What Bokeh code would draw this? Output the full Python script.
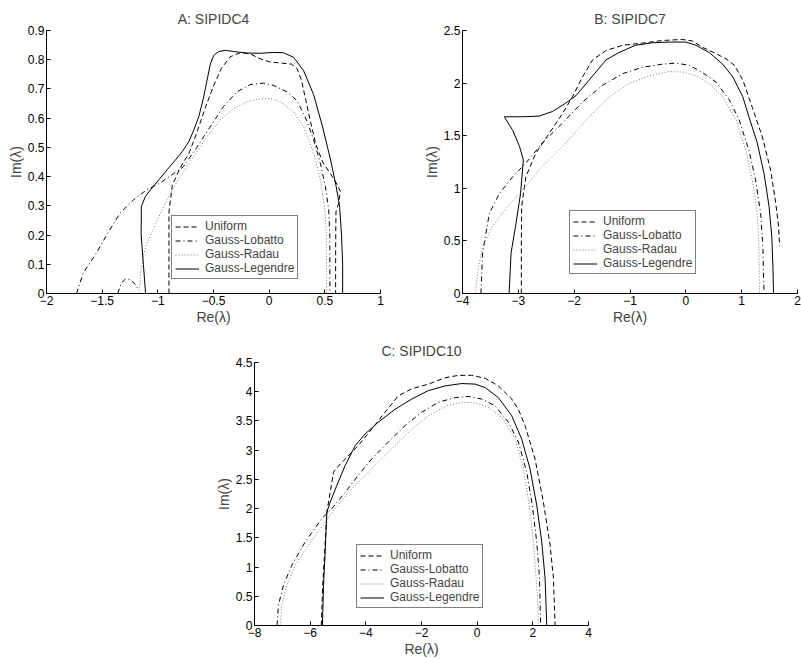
from bokeh.plotting import figure
from bokeh.layouts import column, row
from bokeh.models import Range1d, FixedTicker, Legend, Spacer
from bokeh.embed import file_html
from bokeh.resources import INLINE

nan = float("nan")

# ---------------- Panel A: SIPIDC4 ----------------
A_uni_x = [-0.9, -0.9, -0.9, -0.87, -0.8, -0.72, -0.65, -0.57, -0.5, -0.43, -0.35, -0.26, -0.17, -0.08, 0.01, 0.1, 0.2, 0.25, 0.29, 0.33, 0.37, 0.42, 0.48, 0.55, 0.6, 0.64, 0.625, 0.6, 0.597, 0.597]
A_uni_y = [0.0, 0.15, 0.28, 0.37, 0.43, 0.48, 0.55, 0.64, 0.71, 0.77, 0.81, 0.824, 0.82, 0.803, 0.792, 0.789, 0.785, 0.77, 0.73, 0.66, 0.59, 0.51, 0.45, 0.41, 0.38, 0.35, 0.31, 0.28, 0.15, 0.0]
A_lob_x = [-1.73, -1.67, -1.55, -1.46, -1.34, -1.22, -1.1, -0.98, -0.86, -0.77, -0.65, -0.53, -0.41, -0.29, -0.17, -0.05, 0.04, 0.16, 0.25, 0.34, 0.4, 0.46, 0.505, 0.535, 0.545, 0.546,
           nan, -1.36, -1.33, -1.29, -1.25, -1.2, -1.18]
A_lob_y = [0.0, 0.07, 0.14, 0.2, 0.275, 0.32, 0.355, 0.378, 0.41, 0.434, 0.5, 0.57, 0.64, 0.69, 0.715, 0.72, 0.712, 0.69, 0.66, 0.59, 0.525, 0.445, 0.366, 0.286, 0.195, 0.0,
           nan, 0.0, 0.035, 0.05, 0.048, 0.03, 0.015]
A_rad_x = [-1.17, -1.15, -1.13, -1.1, -1.0, -0.92, -0.8, -0.68, -0.56, -0.44, -0.32, -0.2, -0.08, 0.01, 0.1, 0.22, 0.31, 0.4, 0.46, 0.5, 0.514, 0.516]
A_rad_y = [0.0, 0.08, 0.13, 0.17, 0.255, 0.32, 0.4, 0.468, 0.536, 0.593, 0.633, 0.656, 0.667, 0.667, 0.656, 0.622, 0.57, 0.48, 0.39, 0.286, 0.195, 0.0]
A_leg_x = [-1.11, -1.13, -1.15, -1.148, -1.112, -1.066, -0.991, -0.917, -0.842, -0.782, -0.722, -0.677, -0.632, -0.588, -0.558, -0.528, -0.498, -0.453, -0.393, -0.32, -0.2, -0.08, 0.04, 0.13, 0.22, 0.31, 0.4, 0.48, 0.55, 0.6, 0.632, 0.65, 0.66, 0.66]
A_leg_y = [0.0, 0.1, 0.2, 0.298, 0.332, 0.355, 0.389, 0.423, 0.457, 0.485, 0.519, 0.559, 0.605, 0.673, 0.73, 0.786, 0.815, 0.828, 0.832, 0.828, 0.823, 0.822, 0.825, 0.824, 0.808, 0.762, 0.68, 0.57, 0.46, 0.37, 0.3, 0.2, 0.1, 0.0]

# ---------------- Panel B: SIPIDC7 ----------------
B_uni_x = [-2.946, -2.946, -2.94, -2.865, -2.69, -2.45, -2.21, -2.03, -1.85, -1.67, -1.43, -1.13, -0.78, -0.42, -0.06, 0.12, 0.3, 0.54, 0.72, 0.87, 1.02, 1.19, 1.37, 1.52, 1.61, 1.66, 1.68]
B_uni_y = [0.0, 0.5, 0.83, 1.11, 1.33, 1.52, 1.71, 1.87, 2.06, 2.22, 2.31, 2.36, 2.38, 2.405, 2.415, 2.4, 2.34, 2.28, 2.23, 2.17, 2.03, 1.77, 1.49, 1.17, 0.86, 0.64, 0.45]
B_lob_x = [-3.67, -3.64, -3.52, -3.34, -3.1, -2.865, -2.57, -2.21, -1.85, -1.49, -1.13, -0.78, -0.42, -0.18, 0.06, 0.3, 0.54, 0.78, 0.955, 1.13, 1.25, 1.34, 1.38, 1.4]
B_lob_y = [0.0, 0.385, 0.76, 0.95, 1.11, 1.24, 1.43, 1.62, 1.82, 1.98, 2.09, 2.15, 2.18, 2.19, 2.17, 2.1, 2.01, 1.84, 1.65, 1.36, 1.08, 0.76, 0.45, 0.0]
B_rad_x = [-3.77, -3.73, -3.64, -3.46, -3.22, -2.925, -2.57, -2.15, -1.73, -1.37, -1.015, -0.66, -0.3, -0.06, 0.18, 0.42, 0.66, 0.9, 1.075, 1.19, 1.28, 1.31, 1.32]
B_rad_y = [0.0, 0.2, 0.45, 0.64, 0.81, 0.985, 1.21, 1.43, 1.68, 1.87, 1.995, 2.07, 2.11, 2.105, 2.07, 1.995, 1.87, 1.65, 1.36, 1.08, 0.76, 0.45, 0.0]
B_leg_x = [-3.165, -3.13, -3.05, -2.96, -2.91, -2.98, -3.1, -3.25, -3.1, -2.93, -2.63, -2.39, -2.15, -1.97, -1.73, -1.43, -1.2, -0.9, -0.6, -0.3, 0.0, 0.18, 0.42, 0.66, 0.84, 1.02, 1.13, 1.28, 1.4, 1.49, 1.54, 1.56, 1.57]
B_leg_y = [0.0, 0.385, 0.64, 0.95, 1.27, 1.4, 1.55, 1.68, 1.68, 1.68, 1.686, 1.73, 1.81, 1.88, 2.03, 2.22, 2.29, 2.36, 2.383, 2.39, 2.39, 2.36, 2.29, 2.18, 2.06, 1.87, 1.68, 1.43, 1.14, 0.83, 0.54, 0.25, 0.0]

# ---------------- Panel C: SIPIDC10 ----------------
C_uni_x = [-5.6, -5.55, -5.48, -5.4, -5.16, -5.08, -4.74, -4.27, -3.79, -3.31, -2.83, -2.35, -1.75, -1.15, -0.67, -0.2, 0.29, 0.76, 1.24, 1.48, 1.72, 2.08, 2.38, 2.62, 2.74, 2.8]
C_uni_y = [0.0, 0.69, 1.26, 1.94, 2.625, 2.68, 2.85, 3.08, 3.36, 3.65, 3.93, 4.05, 4.13, 4.24, 4.28, 4.28, 4.23, 4.1, 3.875, 3.7, 3.42, 2.85, 2.11, 1.375, 0.81, 0.0]
C_lob_x = [-7.19, -7.14, -6.96, -6.66, -6.18, -5.58, -5.22, -4.74, -4.27, -3.79, -3.19, -2.59, -1.99, -1.39, -0.79, -0.32, 0.16, 0.64, 1.12, 1.48, 1.78, 1.98, 2.14, 2.24, 2.28]
C_lob_y = [0.0, 0.35, 0.69, 1.03, 1.43, 1.83, 2.0, 2.28, 2.57, 2.85, 3.14, 3.42, 3.65, 3.82, 3.9, 3.92, 3.875, 3.76, 3.48, 3.14, 2.625, 2.06, 1.43, 0.81, 0.0]
C_rad_x = [-7.07, -7.02, -6.84, -6.54, -6.06, -5.46, -5.1, -4.62, -4.14, -3.55, -2.95, -2.35, -1.75, -1.15, -0.55, -0.07, 0.41, 0.89, 1.37, 1.66, 1.87, 2.02, 2.12, 2.18, 2.2]
C_rad_y = [0.0, 0.35, 0.69, 1.03, 1.375, 1.77, 2.0, 2.28, 2.51, 2.8, 3.08, 3.36, 3.59, 3.75, 3.82, 3.81, 3.73, 3.56, 3.19, 2.68, 2.06, 1.43, 0.81, 0.4, 0.0]
C_leg_x = [-5.56, -5.52, -5.46, -5.4, -5.28, -5.04, -4.74, -4.38, -4.02, -3.55, -2.95, -2.35, -1.75, -1.15, -0.55, -0.07, 0.29, 0.76, 1.24, 1.6, 1.9, 2.14, 2.32, 2.44, 2.5]
C_leg_y = [0.0, 0.69, 1.26, 1.94, 2.11, 2.4, 2.74, 3.08, 3.28, 3.48, 3.7, 3.875, 4.02, 4.1, 4.14, 4.13, 4.07, 3.9, 3.59, 3.19, 2.68, 2.06, 1.43, 0.81, 0.0]

series_names = ["Uniform", "Gauss-Lobatto", "Gauss-Radau", "Gauss-Legendre"]

A_xticks = [-2, -1.5, -1, -0.5, 0, 0.5, 1]
A_yticks = [0, 0.1, 0.2, 0.3, 0.4, 0.5, 0.6, 0.7, 0.8, 0.9]
B_xticks = [-4, -3, -2, -1, 0, 1, 2]
B_yticks = [0, 0.5, 1, 1.5, 2, 2.5]
C_xticks = [-8, -6, -4, -2, 0, 2, 4]
C_yticks = [0, 0.5, 1, 1.5, 2, 2.5, 3, 3.5, 4, 4.5]

FONT = "Liberation Sans"
STYLES = [
    dict(line_color="black", line_dash="5 3"),
    dict(line_color="black", line_dash="5 3 1 3"),
    dict(line_color="#7a7a7a", line_dash="1 2"),
    dict(line_color="black", line_dash="solid"),
]


def fmt(v):
    s = ("%g" % v)
    return s.replace("-", "\u2212")


def make_panel(title, series, xr, yr, xticks, yticks, legend_loc,
               mb_left, mb_right, mb_top, fw, fh):
    p = figure(output_backend="svg", toolbar_location=None,
               frame_width=fw, frame_height=fh,
               min_border_left=mb_left, min_border_right=mb_right,
               min_border_top=mb_top, min_border_bottom=10,
               x_range=Range1d(*xr), y_range=Range1d(*yr),
               title=title)
    p.title.align = "center"
    p.title.text_font = FONT
    p.title.text_font_size = "14px"
    p.title.text_font_style = "normal"
    p.title.standoff = 7
    p.outline_line_color = None
    p.xgrid.visible = False
    p.ygrid.visible = False
    p.background_fill_color = "white"
    p.border_fill_color = "white"
    p.xaxis.axis_label = "Re(\u03bb)"
    p.yaxis.axis_label = "Im(\u03bb)"
    for ax, ticks in ((p.xaxis, xticks), (p.yaxis, yticks)):
        ax.ticker = FixedTicker(ticks=ticks)
        ax.major_label_overrides = {float(t): fmt(t) for t in ticks}
        ax.major_tick_in = 4
        ax.major_tick_out = 0
        ax.minor_tick_line_color = None
        ax.axis_line_color = "black"
        ax.major_tick_line_color = "black"
        ax.major_label_text_font = FONT
        ax.major_label_text_font_size = "12px"
        ax.major_label_text_color = "black"
        ax.major_label_standoff = 2
        ax.axis_label_text_font = FONT
        ax.axis_label_text_font_size = "14px"
        ax.axis_label_text_font_style = "normal"
        ax.axis_label_standoff = 1
    items = []
    for (xs, ys), name, st in zip(series, series_names, STYLES):
        r = p.line(xs, ys, line_width=1, **st)
        items.append((name, [r]))
    leg = Legend(items=items, location=legend_loc)
    leg.label_text_font = FONT
    leg.label_text_font_size = "12px"
    leg.label_height = 13
    leg.glyph_height = 13
    leg.glyph_width = 24
    leg.label_standoff = 6
    leg.padding = 3
    leg.spacing = 0
    leg.margin = 0
    leg.border_line_color = "black"
    leg.border_line_width = 1
    leg.background_fill_alpha = 1
    p.add_layout(leg)
    return p


pA = make_panel("A: SIPIDC4",
                [(A_uni_x, A_uni_y), (A_lob_x, A_lob_y), (A_rad_x, A_rad_y), (A_leg_x, A_leg_y)],
                (-2, 1), (0, 0.9), A_xticks, A_yticks, (125, 14),
                46, 20, 30, 334, 263)
pB = make_panel("B: SIPIDC7",
                [(B_uni_x, B_uni_y), (B_lob_x, B_lob_y), (B_rad_x, B_rad_y), (B_leg_x, B_leg_y)],
                (-4, 2), (0, 2.5), B_xticks, B_yticks, (107, 19),
                62, 4, 30, 335, 263)
pC = make_panel("C: SIPIDC10",
                [(C_uni_x, C_uni_y), (C_lob_x, C_lob_y), (C_rad_x, C_rad_y), (C_leg_x, C_leg_y)],
                (-8, 4), (0, 4.5), C_xticks, C_yticks, (102, 17),
                54, 10, 35, 334, 263)

layout = column(row(pA, pB), row(Spacer(width=200, height=10), pC))
open("out.html", "w").write(file_html(layout, INLINE))
